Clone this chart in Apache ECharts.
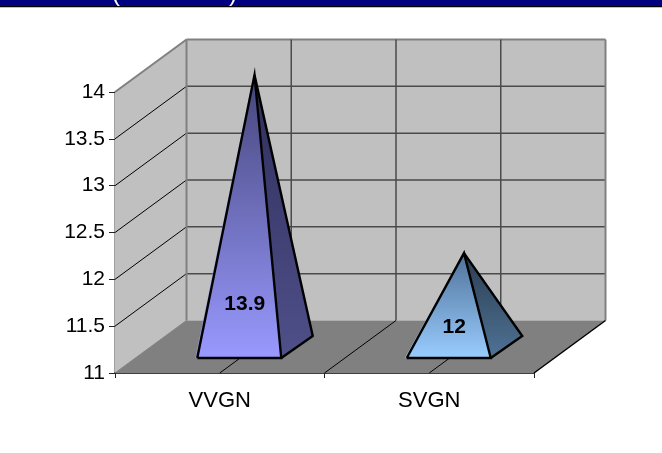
<!DOCTYPE html>
<html><head><meta charset="utf-8">
<style>html,body{margin:0;padding:0;background:#fff}#c{width:662px;height:453px}</style>
<script src="https://cdn.jsdelivr.net/npm/echarts@6/dist/echarts.min.js"></script>
</head><body><div id="c"></div>
<script>
const categories = ['VVGN', 'SVGN'];
const seriesValues = [13.9, 12];
const yTicks = [11, 11.5, 12, 12.5, 13, 13.5, 14];

const DX = 71.5, DY = -52.5;
const faces = [
  {top:'#45457a', bot:'#9999ff', sideTop:'#2e2e5c', sideBot:'#50508a'},
  {top:'#4f7299', bot:'#99ccff', sideTop:'#2b3d50', sideBot:'#4f7296'}
];
const chart = echarts.init(document.getElementById('c'), null, {renderer:'canvas'});
function line(p, q, color, width){
  return {type:'line', shape:{x1:p[0],y1:p[1],x2:q[0],y2:q[1]}, style:{stroke:color, lineWidth:width}};
}
function poly(points, fill){
  return {type:'polygon', shape:{points}, style:{fill}};
}
function walls(params, api){
  if (params.dataIndex !== 0) return;
  const band = api.size([1,0])[0];
  const c0 = api.coord([0, 11]);
  const left = c0[0] - band/2, right = left + band*2;
  const yAt = v => api.coord([0, v])[1];
  const bot = yAt(11), top = yAt(14);
  const ch = [];
  ch.push(poly([[left,bot],[left+DX,bot+DY],[left+DX,top+DY],[left,top]], '#c0c0c0'));
  ch.push(poly([[left+DX,bot+DY],[right+DX,bot+DY],[right+DX,top+DY],[left+DX,top+DY]], '#c0c0c0'));
  ch.push(poly([[left,bot],[right,bot],[right+DX,bot+DY],[left+DX,bot+DY]], '#808080'));
  yTicks.forEach(v => {
    const y = yAt(v);
    if (v === 11) return;
    if (v !== 14) {
      ch.push(line([left,y],[left+DX,y+DY],'#000',1));
      ch.push(line([left+DX,y+DY],[right+DX,y+DY],'#4a4a4a',1.5));
    } else {
      ch.push(line([left+DX,y+DY],[right+DX,y+DY],'#808080',2));
    }
  });
  ch.push(line([left,top],[left+DX,top+DY],'#808080',2));
  ch.push(line([left,bot],[left+DX,bot+DY],'#808080',1));
  ch.push(line([left+DX,bot+DY],[left+DX,top+DY],'#808080',2));
  ch.push(line([right+DX,bot+DY],[right+DX,top+DY],'#808080',2));
  ch.push(line([right,bot],[right+DX,bot+DY],'#000',1.5));
  for (let k = 1; k < 4; k++) {
    const x = left + k*band/2;
    ch.push(line([x+DX,bot+DY],[x+DX,top+DY],'#4a4a4a',1.5));
    ch.push(line([x,bot],[x+DX,bot+DY],'#000',1));
  }
  return {type:'group', children:ch};
}
function pyramid(params, api){
  const i = api.value(0), v = api.value(1);
  const c = api.coord([i, v]);
  const base = api.coord([i, 11]);
  const f = faces[i];
  const apex = [c[0]+DX/2-1, c[1]+DY/2];
  const y0 = base[1]-15, half = 42;
  const cx = base[0]+19.5;
  const fl = [cx-half,y0], fr = [cx+half,y0], br = [fr[0]+31.5,y0-22];
  const grad = (a,b) => new echarts.graphic.LinearGradient(0,0,0,1,[{offset:0,color:a},{offset:1,color:b}]);
  const edge = {stroke:'#000', lineWidth:2.4, lineJoin:'miter', fill:null};
  const lift = 31 + (v-12)*12.1;
  return {type:'group', children:[
    {type:'polygon', shape:{points:[fr,br,apex]}, style:{fill:grad(f.sideTop,f.sideBot)}},
    {type:'polygon', shape:{points:[fl,fr,apex]}, style:{fill:grad(f.top,f.bot)}},
    {type:'line', shape:{x1:fl[0]-1.5,y1:fl[1],x2:apex[0]-.5,y2:apex[1]}, style:{stroke:f.bot,lineWidth:1,opacity:.8}},
    {type:'polyline', shape:{points:[fl,fr,apex,fl]}, style:edge},
    {type:'polyline', shape:{points:[fr,br,apex]}, style:edge},
    {type:'text', style:{x:base[0]+25,y:y0-lift,text:String(v),fill:'#000',
      font:'bold 21px "Liberation Sans", Arial, sans-serif',align:'center',verticalAlign:'middle'}}
  ]};
}
chart.setOption({
  animation:false,
  backgroundColor:'#fff',
  grid:{left:115,top:92,width:419,height:281,containLabel:false},
  xAxis:{type:'category',data:categories,
    axisLine:{show:true,onZero:false,lineStyle:{color:'#000',width:1.5}},
    axisTick:{show:true,length:5,alignWithLabel:false,lineStyle:{color:'#222',width:1}},
    axisLabel:{color:'#000',fontSize:22,fontFamily:'"Liberation Sans", Arial, sans-serif',margin:17}},
  yAxis:{type:'value',min:yTicks[0],max:yTicks[yTicks.length-1],interval:0.5,
    axisLine:{show:true,lineStyle:{color:'#808080',width:1.5}},
    axisTick:{show:true,length:6,lineStyle:{color:'#222',width:1}},
    splitLine:{show:false},
    axisLabel:{color:'#000',fontSize:21,fontFamily:'"Liberation Sans", Arial, sans-serif',margin:10,
      formatter:v=>String(v)}},
  graphic:[
    {type:'rect',shape:{x:0,y:0,width:662,height:6},style:{fill:'#000080'},z:100},
    {type:'text',style:{x:116,y:-18,text:'(',fill:'#fff',font:'24px "Liberation Sans", Arial, sans-serif',align:'center'},z:101},
    {type:'text',style:{x:233,y:-18,text:')',fill:'#fff',font:'24px "Liberation Sans", Arial, sans-serif',align:'center'},z:101},
    {type:'rect',shape:{x:0,y:6,width:662,height:1.5},style:{fill:'#000'},z:102},
    {type:'rect',shape:{x:0,y:7.5,width:662,height:20},style:{fill:'#fff'},z:102}
  ],
  series:[
    {type:'custom',coordinateSystem:'cartesian2d',renderItem:walls,z:1,silent:true,
     data:categories.map((c,i)=>[i,seriesValues[i]]),encode:{x:0,y:1},clip:false},
    {type:'custom',coordinateSystem:'cartesian2d',renderItem:pyramid,z:3,silent:true,
     data:categories.map((c,i)=>[i,seriesValues[i]]),encode:{x:0,y:1},clip:false}
  ]
});
</script></body></html>
